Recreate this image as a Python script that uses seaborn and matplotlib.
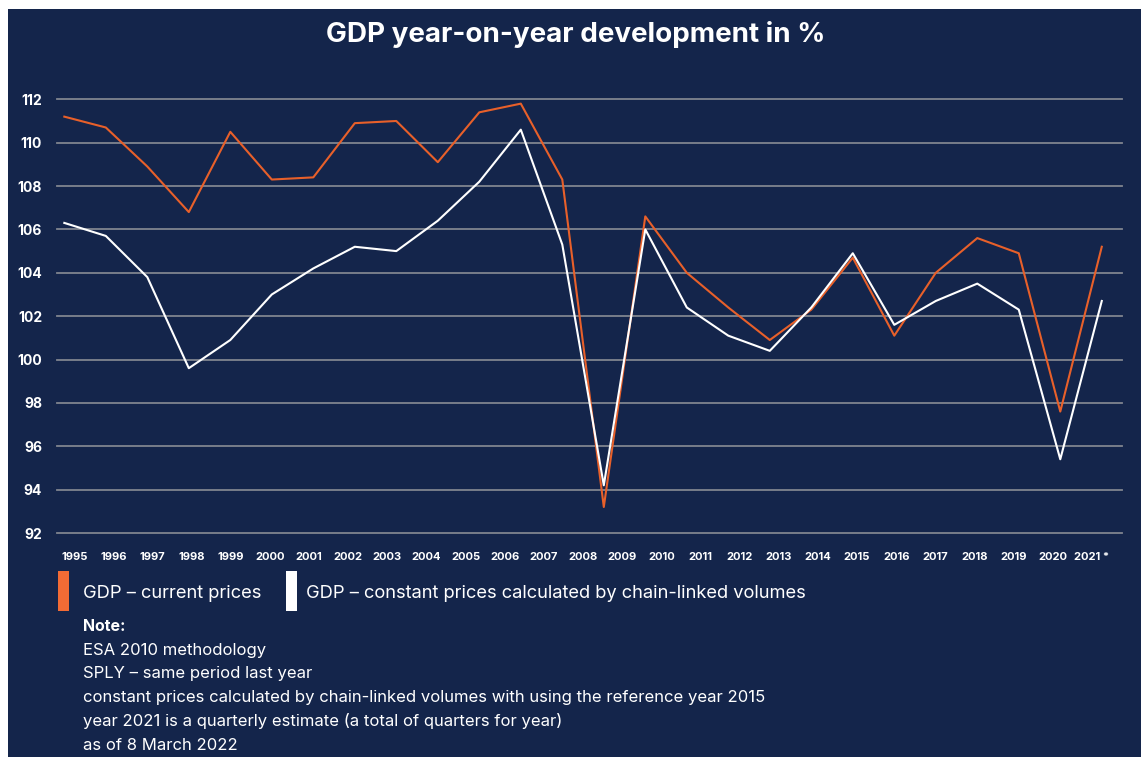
import numpy as np
import pandas as pd
import matplotlib
matplotlib.use("Agg")
import matplotlib.pyplot as plt
from matplotlib.patches import Rectangle
import seaborn as sns

# plotted points (26 values, drawn against the 27 year labels as in the original)
years = list(range(1996, 2022))
gdp_current = [111.2, 110.7, 108.9, 106.8, 110.5, 108.3, 108.4, 110.9, 111.0, 109.1,
               111.4, 111.8, 108.3, 93.2, 106.6, 104.0, 102.4, 100.9, 102.3, 104.7,
               101.1, 104.0, 105.6, 104.9, 97.6, 105.2]
gdp_constant = [106.3, 105.7, 103.8, 99.6, 100.9, 103.0, 104.2, 105.2, 105.0, 106.4,
                108.2, 110.6, 105.3, 94.2, 106.0, 102.4, 101.1, 100.4, 102.4, 104.9,
                101.6, 102.7, 103.5, 102.3, 95.4, 102.7]
tick_labels = [str(y) for y in range(1995, 2021)] + ["2021 *"]
series_names = ["GDP – current prices",
                "GDP – constant prices calculated by chain-linked volumes"]
notes = ["ESA 2010 methodology",
         "SPLY – same period last year",
         "constant prices calculated by chain-linked volumes with using the reference year 2015",
         "year 2021 is a quarterly estimate (a total of quarters for year)",
         "as of 8 March 2022"]

navy = "#14254b"
orange = "#e8602a"
orange_patch = "#f26b35"
grid_col = "#80858f"
W, H = 1141, 757

plt.rcParams["font.family"] = ["Inter", "DejaVu Sans"]

df = pd.DataFrame({
    "idx": list(range(len(years))) * 2,
    "value": gdp_current + gdp_constant,
    "series": [series_names[0]] * len(years) + [series_names[1]] * len(years),
})

fig = plt.figure(figsize=(W / 100, H / 100), dpi=100, facecolor="white")
fig.patches.append(Rectangle((8 / W, -0.05), 1.1, 1.05 - 9 / H, transform=fig.transFigure,
                             facecolor=navy, linewidth=0, zorder=-5))

ax = fig.add_axes([57.3 / W, 1 - 533 / H, (1121.7 - 57.3) / W, (533 - 99.3) / H])
ax.set_zorder(2)
ax.set_facecolor("none")

sns.lineplot(data=df, x="idx", y="value", hue="series",
             palette={series_names[0]: orange, series_names[1]: "white"},
             linewidth=1.5, legend=False, ax=ax, zorder=3)

ax.set_xlim(-0.169, 25.48)
ax.set_ylim(92, 112)
ax.set_yticks(range(92, 113, 2))
ax.set_xticks(np.linspace(0.241, 24.76, len(tick_labels)))
ax.set_xticklabels(tick_labels)
ax.set_xlabel("")
ax.set_ylabel("")
ax.grid(axis="y", color=grid_col, linewidth=1.3)
ax.grid(axis="x", visible=False)
for gl in ax.get_ygridlines():
    gl.set_clip_on(False)
for s in ax.spines.values():
    s.set_visible(False)
ax.tick_params(axis="y", length=0, pad=11, labelcolor="white", labelsize=10)
ax.tick_params(axis="x", length=0, pad=13.5, labelcolor="white", labelsize=8)
for lab in ax.get_xticklabels() + ax.get_yticklabels():
    lab.set_fontweight("bold")

fig.text(576 / W, 1 - 35 / H, "GDP year-on-year development in %", color="white",
         fontsize=20, fontweight="bold", ha="center", va="center")

# legend
fig.patches.append(Rectangle((58 / W, 1 - 611 / H), 11 / W, 40 / H,
                             transform=fig.transFigure, facecolor=orange_patch,
                             linewidth=0, zorder=2))
fig.patches.append(Rectangle((286 / W, 1 - 611 / H), 11 / W, 40 / H,
                             transform=fig.transFigure, facecolor="white",
                             linewidth=0, zorder=2))
fig.text(83 / W, 1 - 593 / H, series_names[0], color="white", fontsize=13.2,
         ha="left", va="center")
fig.text(306 / W, 1 - 593 / H, series_names[1], color="white", fontsize=13.2,
         ha="left", va="center")

fig.text(83 / W, 1 - 626.5 / H, "Note:", color="white", fontsize=11.5,
         fontweight="bold", ha="left", va="center")
for k, line in enumerate(notes):
    fig.text(83 / W, 1 - (650 + 23.8 * k) / H, line, color="white", fontsize=12,
             ha="left", va="center")

fig.savefig("out.png", dpi=100, facecolor="white")
